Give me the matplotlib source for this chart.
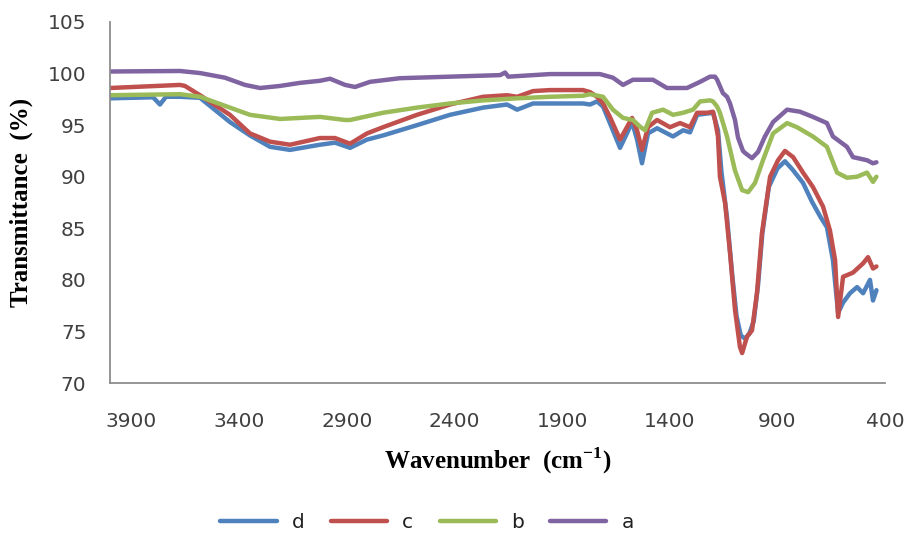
import numpy as np
import matplotlib
matplotlib.use('Agg')
import matplotlib.pyplot as plt

# 数据：波数 (cm-1) 与透过率 (%)
wn_a = [4000, 3675, 3582, 3466, 3373, 3303, 3210, 3117, 3025, 2978, 2908, 2862, 2792, 2653, 2421,
        2188, 2165, 2150, 1956, 1724, 1664, 1617, 1571, 1478, 1413, 1320, 1259, 1213, 1190, 1180,
        1153, 1134, 1120, 1097, 1083, 1060, 1050, 1018, 990, 958, 920, 855, 795, 735, 670, 642,
        577, 549, 484, 456, 440]
t_a = [100.2, 100.25, 100.05, 99.6, 98.9, 98.6, 98.8, 99.1, 99.3, 99.5, 98.9, 98.7, 99.2, 99.55, 99.7,
       99.85, 100.1, 99.7, 99.95, 99.95, 99.6, 98.9, 99.4, 99.4, 98.6, 98.6, 99.2, 99.7, 99.7, 99.4,
       98.1, 97.75, 97.1, 95.5, 93.8, 92.5, 92.3, 91.8, 92.4, 93.9, 95.3, 96.5, 96.3, 95.8, 95.2, 93.9,
       92.9, 91.9, 91.6, 91.3, 91.4]

wn_b = [4000, 3675, 3582, 3443, 3350, 3210, 3025, 2908, 2885, 2732, 2574, 2421, 2267, 2109, 1956,
        1803, 1770, 1710, 1664, 1617, 1571, 1538, 1515, 1482, 1431, 1385, 1338, 1292, 1259, 1213,
        1199, 1180, 1167, 1134, 1097, 1064, 1036, 1004, 967, 920, 855, 809, 735, 670, 623, 577,
        530, 484, 456, 440]
t_b = [97.9, 98.0, 97.75, 96.7, 96.0, 95.6, 95.8, 95.5, 95.5, 96.2, 96.7, 97.1, 97.4, 97.6, 97.75,
       97.85, 98.0, 97.75, 96.5, 95.7, 95.5, 94.85, 94.5, 96.2, 96.5, 96.0, 96.2, 96.5, 97.3, 97.4,
       97.3, 96.8, 96.2, 93.9, 90.6, 88.7, 88.5, 89.4, 91.6, 94.2, 95.2, 94.8, 93.9, 92.9, 90.4, 89.9,
       90.0, 90.4, 89.5, 90.0]

wn_c = [4000, 3675, 3652, 3582, 3443, 3350, 3257, 3164, 3025, 2955, 2885, 2806, 2732, 2574, 2421,
        2267, 2156, 2109, 2035, 1956, 1803, 1770, 1738, 1710, 1678, 1631, 1599, 1575, 1552, 1529,
        1501, 1459, 1399, 1352, 1306, 1273, 1227, 1199, 1190, 1176, 1167, 1143, 1120, 1097, 1074,
        1064, 1041, 1018, 995, 972, 934, 897, 865, 827, 781, 735, 688, 656, 632, 618, 595, 549,
        502, 479, 456, 440]
t_c = [98.6, 98.9, 98.8, 97.9, 96.0, 94.2, 93.4, 93.1, 93.75, 93.75, 93.2, 94.2, 94.8, 96.0, 97.0,
       97.75, 97.9, 97.75, 98.3, 98.4, 98.4, 98.2, 97.75, 97.1, 95.8, 93.6, 94.8, 95.7, 94.5, 92.6,
       94.8, 95.5, 94.8, 95.2, 94.8, 96.2, 96.2, 96.3, 95.5, 93.9, 90.0, 87.45, 82.6, 77.1, 73.5,
       72.9, 74.5, 75.1, 78.7, 84.5, 90.0, 91.6, 92.5, 91.9, 90.4, 89.0, 87.1, 84.8, 81.9, 76.4, 80.3, 80.7,
       81.6, 82.2, 81.1, 81.3]

wn_d = [4000, 3800, 3768, 3740, 3675, 3582, 3443, 3350, 3257, 3164, 3025, 2955, 2885, 2806, 2732,
        2574, 2421, 2267, 2156, 2109, 2035, 1956, 1803, 1770, 1738, 1710, 1678, 1631, 1599, 1575,
        1552, 1529, 1501, 1459, 1385, 1338, 1306, 1273, 1199, 1176, 1160, 1134, 1110, 1090, 1070,
        1050, 1030, 1010, 990, 970, 940, 900, 865, 830, 781, 740, 700, 670, 642, 618, 595, 563, 530,
        502, 470, 456, 440]
t_d = [97.6, 97.7, 97.0, 97.75, 97.75, 97.65, 95.3, 94.0, 92.9, 92.6, 93.1, 93.3, 92.8, 93.6, 94.0,
       95.0, 96.0, 96.7, 97.0, 96.5, 97.1, 97.1, 97.1, 97.0, 97.3, 96.8, 95.2, 92.8, 94.2, 95.3,
       93.6, 91.3, 94.2, 94.7, 93.9, 94.5, 94.3, 96.0, 96.2, 94.5, 90.5, 86.0, 80.5, 76.5, 74.6,
       74.3, 74.8, 76.0, 79.5, 84.5, 89.0, 90.8, 91.5, 90.7, 89.4, 87.6, 86.1, 85.1, 81.9, 76.8, 77.8, 78.7, 79.3,
       78.7, 80.0, 78.0, 79.0]

names = ['d', 'c', 'b', 'a']
colors = ['#4F81BD', '#C0504D', '#9BBB59', '#8064A2']
x_ticks = [3900, 3400, 2900, 2400, 1900, 1400, 900, 400]
y_ticks = [70, 75, 80, 85, 90, 95, 100, 105]

fig = plt.figure(figsize=(9.07, 5.39), dpi=100)
ax = fig.add_axes([0.1213, 0.2894, 0.8545, 0.6698])

series = [(wn_d, t_d), (wn_c, t_c), (wn_b, t_b), (wn_a, t_a)]
for (wn, t), name, col in zip(series, names, colors):
    ax.plot(wn, t, color=col, lw=3.2, label=name, solid_capstyle='round', solid_joinstyle='round')

ax.set_xlim(4000, 400)
ax.set_ylim(70, 105)
ax.set_xticks(x_ticks)
ax.set_yticks(y_ticks)
ax.tick_params(length=0, labelsize=14.5, labelcolor='#404040')
ax.tick_params(axis='x', pad=21)
ax.tick_params(axis='y', pad=17)
for s in ['top', 'right']:
    ax.spines[s].set_visible(False)
for s in ['left', 'bottom']:
    ax.spines[s].set_color('#8c8c8c')
    ax.spines[s].set_linewidth(1.3)

ax.set_xlabel(r'Wavenumber  (cm$^{\mathregular{-1}}$)', fontsize=18, fontweight='bold',
              family='Liberation Serif')
ax.xaxis.set_label_coords(0.5, -0.172)
ax.set_ylabel('Transmittance  (%)', fontsize=18, fontweight='bold', family='Liberation Serif')
ax.yaxis.set_label_coords(-0.099, 0.5)

fig.legend(loc='center', bbox_to_anchor=(0.471, 0.03), ncol=4, frameon=False,
           fontsize=14.5, handlelength=2.8, handletextpad=0.75, columnspacing=1.3,
           labelcolor='#202020')

fig.savefig('out.png', dpi=100)
